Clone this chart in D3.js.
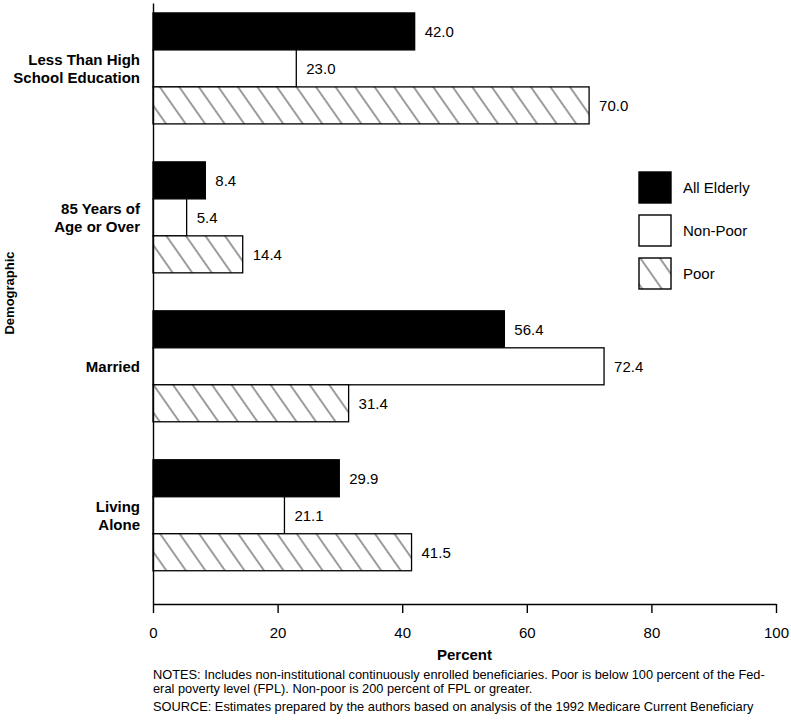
<!DOCTYPE html>
<html>
<head>
<meta charset="utf-8">
<script src="https://cdn.jsdelivr.net/npm/d3@7"></script>
<style>
  body { margin: 0; background: #fff; }
  svg { display: block; font-family: "Liberation Sans", Arial, Helvetica, sans-serif; }
</style>
</head>
<body>
<svg width="791" height="728"></svg>
<script>
// data
const categories = ["Less Than High School Education", "85 Years of Age or Over", "Married", "Living Alone"];
const categoryLines = [["Less Than High", "School Education"], ["85 Years of", "Age or Over"], ["Married"], ["Living", "Alone"]];
const series = ["All Elderly", "Non-Poor", "Poor"];
const allElderly = [42.0, 8.4, 56.4, 29.9];
const nonPoor = [23.0, 5.4, 72.4, 21.1];
const poor = [70.0, 14.4, 31.4, 41.5];
const xTicks = [0, 20, 40, 60, 80, 100];
const notes = [
  "NOTES: Includes non-institutional continuously enrolled beneficiaries. Poor is below 100 percent of the Fed-",
  "eral poverty level (FPL). Non-poor is 200 percent of FPL or greater.",
  "SOURCE: Estimates prepared by the authors based on analysis of the 1992 Medicare Current Beneficiary"
];

const values = [allElderly, nonPoor, poor];
const fills = ["#000", "#fff", "url(#hatch)"];

const svg = d3.select("svg");
const axisY = 604;

// hatch pattern (diagonal "\" lines)
const defs = svg.append("defs");
defs.append("pattern")
  .attr("id", "hatch")
  .attr("patternUnits", "userSpaceOnUse")
  .attr("width", 16)
  .attr("height", 16)
  .attr("patternTransform", "rotate(-35)")
  .call(p => {
    p.append("rect").attr("width", 16).attr("height", 16).attr("fill", "#fff");
    p.append("line").attr("x1", 1).attr("x2", 1).attr("y1", 0).attr("y2", 16)
      .attr("stroke", "#222").attr("stroke-width", 0.9);
  });

// scales
const x = d3.scaleLinear().domain([0, 100]).range([153, 776]);
const y = d3.scaleBand()
  .domain(categories)
  .range([3, axisY])
  .paddingInner(0.255)
  .paddingOuter(0.145)
  .align(0.23);
const ySub = d3.scaleBand().domain(series).range([0, y.bandwidth()]);

// bars
const rows = [];
categories.forEach((c, i) => {
  series.forEach((s, j) => {
    rows.push({ cat: c, series: s, value: values[j][i], fill: fills[j] });
  });
});

const g = svg.append("g");
g.selectAll("rect.bar")
  .data(rows)
  .enter()
  .append("rect")
  .attr("class", "bar")
  .attr("x", x(0))
  .attr("y", d => y(d.cat) + ySub(d.series))
  .attr("width", d => x(d.value) - x(0))
  .attr("height", ySub.bandwidth())
  .attr("fill", d => d.fill)
  .attr("stroke", "#000")
  .attr("stroke-width", 1.3);

g.selectAll("text.val")
  .data(rows)
  .enter()
  .append("text")
  .attr("class", "val")
  .attr("x", d => x(d.value) + 10)
  .attr("y", d => y(d.cat) + ySub(d.series) + ySub.bandwidth() / 2)
  .attr("dominant-baseline", "central")
  .attr("font-size", 15)
  .text(d => d.value.toFixed(1));

// axes
const xAxis = d3.axisBottom(x).tickValues(xTicks).tickSizeInner(9).tickSizeOuter(0).tickPadding(14);
svg.append("g")
  .attr("transform", `translate(0, ${axisY})`)
  .call(xAxis)
  .call(a => a.selectAll("text").attr("font-size", 15).attr("font-family", null).attr("fill", "#000"))
  .call(a => a.selectAll("line, path").attr("stroke", "#000").attr("stroke-width", 1.4));

const yAxis = d3.axisLeft(y).tickSize(0).tickFormat("");
svg.append("g")
  .attr("transform", `translate(${x(0)}, 0)`)
  .call(yAxis)
  .call(a => a.select("path").attr("stroke", "#000").attr("stroke-width", 1.4));

// category labels
categories.forEach((c, i) => {
  const lines = categoryLines[i];
  const mid = y(c) + y.bandwidth() / 2;
  lines.forEach((line, k) => {
    svg.append("text")
      .attr("x", 140)
      .attr("y", mid + (k - (lines.length - 1) / 2) * 18)
      .attr("text-anchor", "end")
      .attr("dominant-baseline", "central")
      .attr("font-size", 15)
      .attr("font-weight", "bold")
      .text(line);
  });
});

// axis titles
svg.append("text")
  .attr("x", (x(0) + x(100)) / 2)
  .attr("y", 660)
  .attr("text-anchor", "middle")
  .attr("font-size", 15)
  .attr("font-weight", "bold")
  .text("Percent");

svg.append("text")
  .attr("transform", "translate(14, 293) rotate(-90)")
  .attr("text-anchor", "middle")
  .attr("font-size", 13)
  .attr("font-weight", "bold")
  .text("Demographic");

// legend
const legend = svg.append("g").attr("transform", "translate(639, 172)");
series.forEach((s, j) => {
  const row = legend.append("g").attr("transform", `translate(0, ${j * 43})`);
  row.append("rect")
    .attr("width", 32)
    .attr("height", 31)
    .attr("fill", fills[j])
    .attr("stroke", "#000")
    .attr("stroke-width", 1.4);
  row.append("text")
    .attr("x", 44)
    .attr("y", 15.5)
    .attr("dominant-baseline", "central")
    .attr("font-size", 15)
    .text(s);
});

// notes
svg.selectAll("text.note")
  .data(notes)
  .enter()
  .append("text")
  .attr("class", "note")
  .attr("x", 153)
  .attr("y", (d, i) => [679, 693, 711][i])
  .attr("font-size", 12.8)
  .text(d => d);
</script>
</body>
</html>
